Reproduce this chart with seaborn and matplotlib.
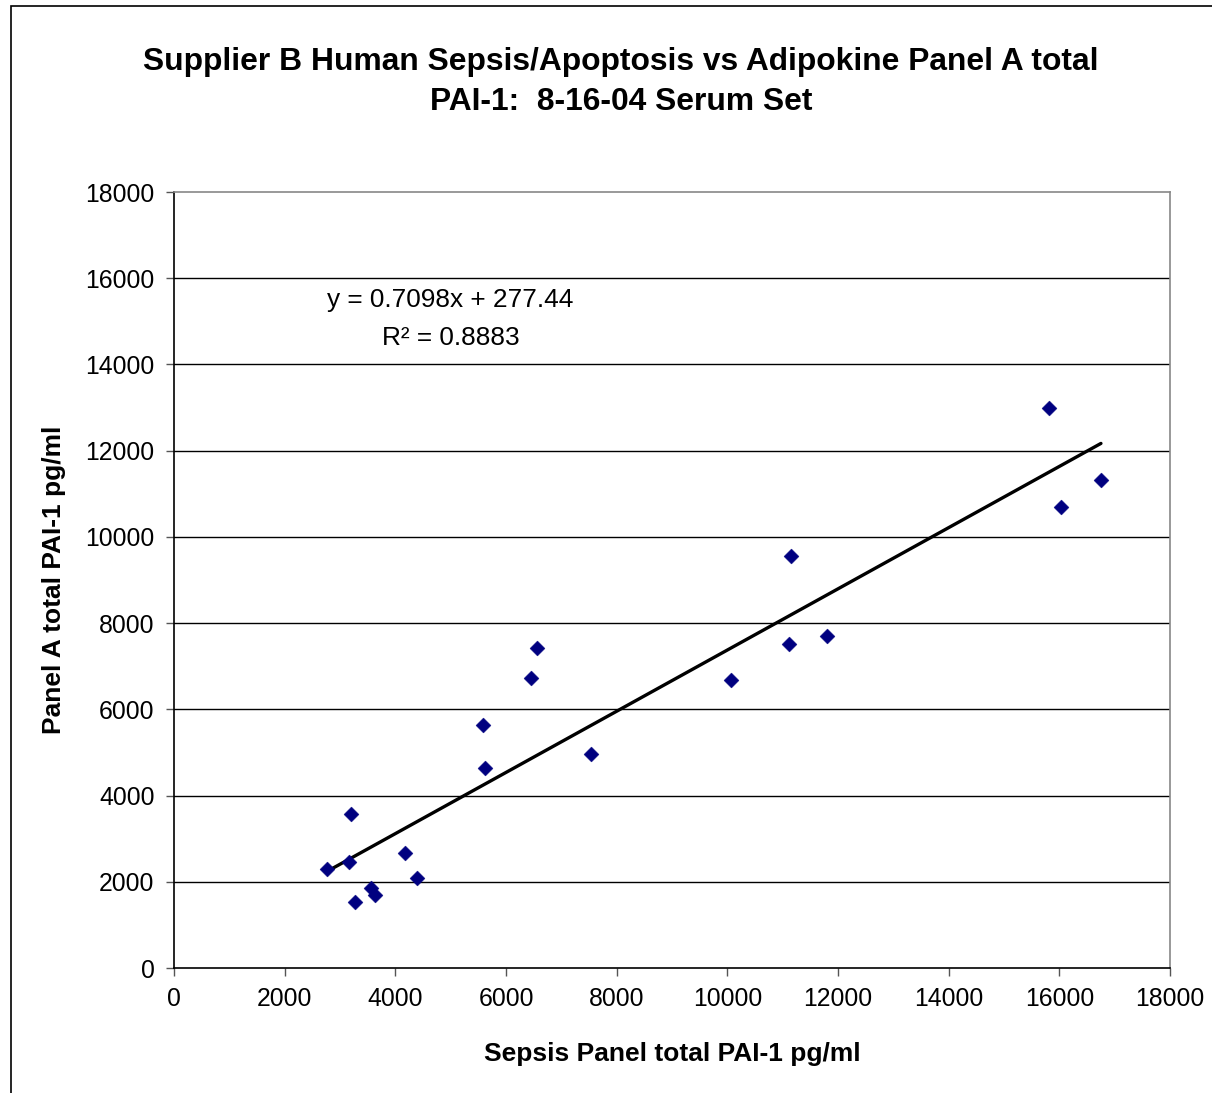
import matplotlib
matplotlib.use("Agg")
import matplotlib.pyplot as plt
import seaborn as sns
import numpy as np
import pandas as pd
from matplotlib.patches import Rectangle

# значения
sepsis_pai1 = [2765, 3163, 3199, 3271, 3560, 3632, 4174, 4391, 5584, 5620,
               6451, 6560, 7536, 10065, 11114, 11150, 11800, 15812, 16029, 16752]
panel_a_pai1 = [2297, 2459, 3573, 1531, 1856, 1694, 2668, 2088, 5638, 4640,
                6729, 7425, 4965, 6682, 7517, 9559, 7703, 12993, 10696, 11323]
slope = 0.7098
intercept = 277.44
r_squared = 0.8883
ticks = list(range(0, 18001, 2000))

df = pd.DataFrame({"x": sepsis_pai1, "y": panel_a_pai1})
x_fit = np.array([min(sepsis_pai1), max(sepsis_pai1)])
fit = pd.DataFrame({"x": x_fit, "y": slope * x_fit + intercept})

sns.set_style("white")
plt.rcParams["font.family"] = ["Liberation Sans", "DejaVu Sans"]
plt.rcParams["text.color"] = "black"
plt.rcParams["axes.labelcolor"] = "black"
plt.rcParams["xtick.labelcolor"] = "black"
plt.rcParams["ytick.labelcolor"] = "black"

fig = plt.figure(figsize=(12.12, 10.93), dpi=100)
ax = fig.add_axes([174 / 1212, 1 - 968 / 1093, 996 / 1212, 776 / 1093])

# рамка вокруг всего рисунка
fig.patches.append(Rectangle((11 / 1212, -0.01), 1.1, 1 - 6 / 1093 + 0.01,
                             transform=fig.transFigure, fill=False,
                             edgecolor="black", linewidth=1.2))

for yv in ticks[1:-1]:
    ax.axhline(yv, color="black", linewidth=1.0, zorder=1)

sns.lineplot(data=fit, x="x", y="y", color="black", linewidth=2.4, ax=ax, zorder=2)
sns.scatterplot(data=df, x="x", y="y", marker="D", s=58, color="#000080",
                edgecolor="#000080", linewidth=0.3, ax=ax, zorder=3)

ax.set_xlim(0, 18000)
ax.set_ylim(0, 18000)
ax.set_xticks(ticks)
ax.set_yticks(ticks)
ax.tick_params(axis="both", direction="out", length=6, width=1, color="#555555",
               labelsize=17.8, pad=8, bottom=True, left=True)

for side in ["left", "bottom"]:
    ax.spines[side].set_color("black")
    ax.spines[side].set_linewidth(1.2)
for side in ["top", "right"]:
    ax.spines[side].set_color("#888888")
    ax.spines[side].set_linewidth(1.2)

ax.set_xlabel("Sepsis Panel total PAI-1 pg/ml", fontsize=19, fontweight="bold", labelpad=22)
ax.set_ylabel("Panel A total PAI-1 pg/ml", fontsize=19, fontweight="bold", labelpad=14)

ax.text(4988, 15500, f"y = {slope}x + {intercept}", fontsize=18.9, ha="center", va="center")
ax.text(5000, 14620, f"R² = {r_squared}", fontsize=18.9, ha="center", va="center")

fig.text(621 / 1212, 1 - 82 / 1093,
         "Supplier B Human Sepsis/Apoptosis vs Adipokine Panel A total\nPAI-1:  8-16-04 Serum Set",
         fontsize=22.9, fontweight="bold", ha="center", va="center", linespacing=1.45)

fig.savefig("out.png", dpi=100, facecolor="white")
